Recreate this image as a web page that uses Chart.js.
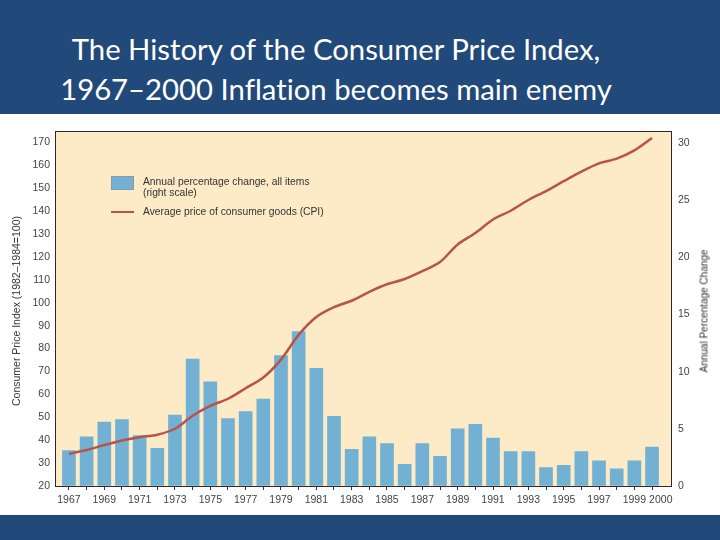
<!DOCTYPE html>
<html>
<head>
<meta charset="utf-8">
<title>The History of the Consumer Price Index, 1967–2000</title>
<script src="https://cdn.jsdelivr.net/npm/chart.js@4.4.0/dist/chart.umd.min.js"></script>
<style>
  html, body { margin: 0; padding: 0; }
  body {
    width: 720px; height: 540px; overflow: hidden; position: relative;
    background: #21497A;
    font-family: 'Liberation Sans', Arial, sans-serif;
  }
  #title {
    position: absolute; left: 0; top: 29px; width: 672px;
    text-align: center; color: #fff;
    font-family: Lato, 'Open Sans', sans-serif; font-size: 29.3px; line-height: 40px;
    font-variant-ligatures: none;
  }
  #panel { position: absolute; left: 0; top: 114px; width: 720px; height: 401px; background: #fff; }
  #panel canvas { position: absolute; left: 0; top: 0; }
  .axis-title {
    position: absolute; color: #333; white-space: nowrap;
    transform: translate(-50%, -50%) rotate(-90deg);
  }
  .lg-text { position: absolute; font-size: 10.3px; color: #333; white-space: nowrap; line-height: 11px; }
  .lg-box { position: absolute; width: 21px; height: 12px; border: 1px solid #8a9aa5; }
  .lg-line { position: absolute; width: 23px; height: 2px; }
</style>
</head>
<body>
<div id="title">The History of the Consumer Price Index,<br>1967–2000 Inflation becomes main enemy</div>
<div id="panel">
  <canvas id="cpiChart" width="720" height="401"></canvas>
  <div class="axis-title" style="left:16px; top:197px; font-size:10.5px;">Consumer Price Index (1982–1984=100)</div>
  <div class="axis-title" style="left:704px; top:197px; font-size:10px;">Annual Percentage Change</div>
  <div id="legend"></div>
</div>
<script>
// Data
const years = [1967, 1968, 1969, 1970, 1971, 1972, 1973, 1974, 1975, 1976, 1977,
               1978, 1979, 1980, 1981, 1982, 1983, 1984, 1985, 1986, 1987, 1988,
               1989, 1990, 1991, 1992, 1993, 1994, 1995, 1996, 1997, 1998, 1999, 2000];
const yearLabels = ['1967', '1969', '1971', '1973', '1975', '1977', '1979', '1981', '1983',
                    '1985', '1987', '1989', '1991', '1993', '1995', '1997', '1999', '2000'];
// annual percentage change (right scale)
const pctChange = [3.1, 4.3, 5.6, 5.8, 4.4, 3.3, 6.2, 11.1, 9.1, 5.9, 6.5,
                   7.6, 11.4, 13.5, 10.3, 6.1, 3.2, 4.3, 3.7, 1.9, 3.7, 2.6,
                   5.0, 5.4, 4.2, 3.0, 3.0, 1.6, 1.8, 3.0, 2.2, 1.5, 2.2, 3.4];
// CPI, 1982-1984 = 100 (left scale)
const cpiIndex = [34.1, 35.7, 37.9, 39.9, 41.3, 42.4, 45.0, 50.7, 55.0, 58.1, 62.7,
                  67.4, 75.2, 86.0, 93.8, 98.1, 100.9, 104.8, 108.1, 110.4, 113.8, 117.8,
                  125.5, 130.5, 136.4, 140.2, 144.9, 148.8, 153.1, 157.3, 160.9, 163.0, 166.6, 172.0];
const cpiTicks = [20, 30, 40, 50, 60, 70, 80, 90, 100, 110, 120, 130, 140, 150, 160, 170];
const pctTicks = [0, 5, 10, 15, 20, 25, 30];

const barLabel = 'Annual percentage change, all items';
const barLabel2 = '(right scale)';
const lineLabel = 'Average price of consumer goods (CPI)';

const BAR_COLOR = '#72B1D4';
const LINE_COLOR = '#B9534A';
const PLOT_BG = '#FDEBC7';
const tickFont = { family: "'Liberation Sans', Arial, sans-serif", size: 10.5 };

// cream plot background + frame round the plot area
const plotFrame = {
  id: 'plotFrame',
  beforeDatasetsDraw(chart) {
    const { ctx, chartArea: a } = chart;
    ctx.save();
    ctx.fillStyle = PLOT_BG;
    ctx.fillRect(a.left, a.top, a.right - a.left, a.bottom - a.top);
    ctx.restore();
  },
  afterDraw(chart) {
    const { ctx, chartArea: a } = chart;
    ctx.save();
    ctx.strokeStyle = '#2a2a2a';
    ctx.lineWidth = 1;
    ctx.strokeRect(Math.round(a.left) + 0.5, Math.round(a.top) + 0.5,
                   Math.round(a.right - a.left) - 1, Math.round(a.bottom - a.top));
    ctx.restore();
  }
};

const ctx = document.getElementById('cpiChart');
const chart = new Chart(ctx, {
  type: 'bar',
  data: {
    datasets: [
      {
        type: 'line',
        label: lineLabel,
        data: years.map((y, i) => ({ x: y, y: cpiIndex[i] })),
        yAxisID: 'yCpi',
        borderColor: LINE_COLOR,
        borderWidth: 2.5,
        pointRadius: 0,
        tension: 0.3,
        order: 0
      },
      {
        type: 'bar',
        label: barLabel,
        data: years.map((y, i) => ({ x: y, y: pctChange[i] })),
        yAxisID: 'yPct',
        backgroundColor: BAR_COLOR,
        barThickness: 13,
        order: 1
      }
    ]
  },
  options: {
    responsive: false,
    animation: false,
    layout: { padding: { top: 10, left: 0, right: 0, bottom: 0 } },
    plugins: { legend: { display: false }, tooltip: { enabled: false } },
    scales: {
      x: {
        type: 'linear',
        min: 1966.21,
        max: 2001.13,
        offset: false,
        afterBuildTicks: (scale) => { scale.ticks = years.map(v => ({ value: v })); },
        afterFit: (scale) => { scale.height = 29; },
        grid: { display: true, offset: false, drawOnChartArea: false, drawTicks: true, tickLength: 4, tickColor: '#333' },
        border: { display: false },
        ticks: {
          autoSkip: false, maxRotation: 0, minRotation: 0, padding: 4,
          color: '#444', font: tickFont,
          callback: (v) => {
            const s = String(v);
            if (!yearLabels.includes(s)) return '';
            // last label sits a little right of its tick, as in the original
            return s === '2000' ? '      ' + s : s;
          }
        }
      },
      yCpi: {
        type: 'linear',
        position: 'left',
        min: 20,
        max: 174.9,
        afterBuildTicks: (scale) => { scale.ticks = cpiTicks.map(v => ({ value: v })); },
        afterFit: (scale) => { scale.width = 55; },
        grid: { display: true, drawOnChartArea: false, drawTicks: true, tickLength: -5, tickColor: '#333' },
        border: { display: false },
        ticks: { padding: 10, color: '#444', font: tickFont }
      },
      yPct: {
        type: 'linear',
        position: 'right',
        min: 0,
        max: 31.02,
        afterBuildTicks: (scale) => { scale.ticks = pctTicks.map(v => ({ value: v })); },
        afterFit: (scale) => { scale.width = 48; },
        grid: { display: true, drawOnChartArea: false, drawTicks: true, tickLength: -5, tickColor: '#333' },
        border: { display: false },
        ticks: { padding: 11, color: '#444', font: tickFont }
      }
    }
  },
  plugins: [plotFrame]
});

// legend inside the plot, built from the dataset labels
const legend = document.getElementById('legend');
legend.innerHTML =
  '<div class="lg-box" style="left:111px; top:62px; background:' + BAR_COLOR + '"></div>' +
  '<div class="lg-text" style="left:143px; top:62px;">' + chart.data.datasets[1].label + '</div>' +
  '<div class="lg-text" style="left:143px; top:73px;">' + barLabel2 + '</div>' +
  '<div class="lg-line" style="left:111px; top:97px; background:' + LINE_COLOR + '"></div>' +
  '<div class="lg-text" style="left:143px; top:92px;">' + chart.data.datasets[0].label + '</div>';
</script>
</body>
</html>
